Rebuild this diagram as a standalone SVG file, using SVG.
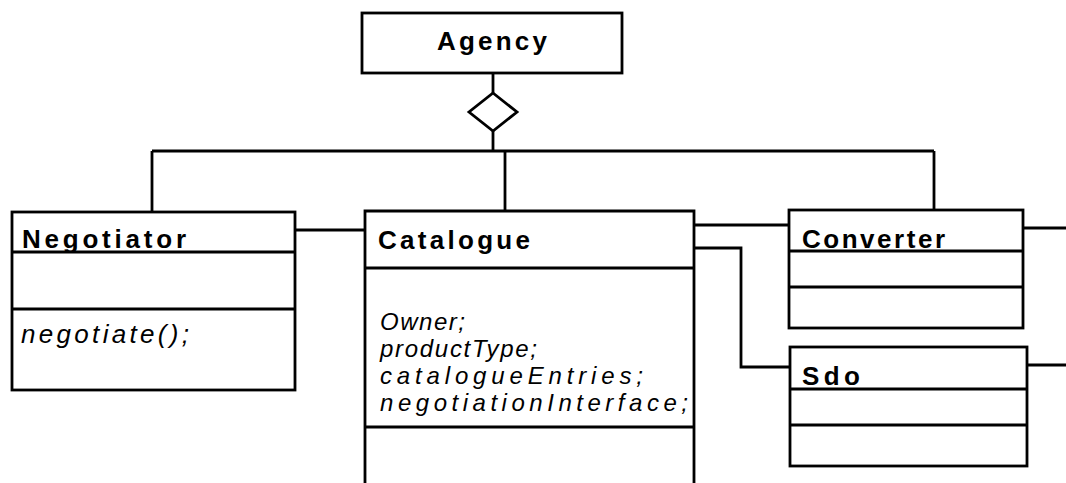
<svg xmlns="http://www.w3.org/2000/svg" width="1066" height="483" viewBox="0 0 1066 483">
<style>
.box{fill:#fff;stroke:#000;stroke-width:2.8}
.ln{fill:none;stroke:#000;stroke-width:2.8}
.b{font-family:"Liberation Sans",Arial,sans-serif;font-weight:bold;font-size:26px;fill:#000}
.i{font-family:"Liberation Sans",Arial,sans-serif;font-style:italic;font-size:24px;fill:#000}
.n{font-size:26px}
</style>
<rect width="1066" height="483" fill="#fff"/>
<g id="connectors">
<polyline class="ln" points="493,73 493,93"/>
<polygon class="ln" points="493,93 517,112 493,131 469,112"/>
<polyline class="ln" points="493,131 493,151"/>
<polyline class="ln" points="152,151 934,151"/>
<polyline class="ln" points="152,151 152,211"/>
<polyline class="ln" points="505,151 505,211"/>
<polyline class="ln" points="934,151 934,210"/>
<polyline class="ln" points="295,230 365,230"/>
<polyline class="ln" points="694,225 789,225"/>
<polyline class="ln" points="694,248 741,248 741,367 790,367"/>
<polyline class="ln" points="1023,228 1066,228"/>
<polyline class="ln" points="1027,365 1066,365"/>
</g>
<g id="agency">
<rect class="box" x="362" y="13" width="260" height="60"/>
<text class="b" x="437" y="50" textLength="110" lengthAdjust="spacing">Agency</text>
</g>
<g id="negotiator">
<rect class="box" x="12" y="212" width="283" height="178"/>
<line class="ln" x1="12" y1="252" x2="295" y2="252"/>
<line class="ln" x1="12" y1="309" x2="295" y2="309"/>
<text class="b" x="22" y="248" textLength="164" lengthAdjust="spacing">Negotiator</text>
<text class="i n" x="21" y="343" textLength="168" lengthAdjust="spacing">negotiate();</text>
</g>
<g id="catalogue">
<polyline class="ln" points="365,490 365,211 694,211 694,490"/>
<line class="ln" x1="365" y1="268" x2="694" y2="268"/>
<line class="ln" x1="365" y1="427" x2="694" y2="427"/>
<text class="b" x="378" y="249" textLength="152" lengthAdjust="spacing">Catalogue</text>
<text class="i" x="380" y="330" textLength="85" lengthAdjust="spacing">Owner;</text>
<text class="i" x="380" y="357" textLength="157" lengthAdjust="spacing">productType;</text>
<text class="i" x="380" y="384" textLength="263" lengthAdjust="spacing">catalogueEntries;</text>
<text class="i" x="380" y="411" textLength="308" lengthAdjust="spacing">negotiationInterface;</text>
</g>
<g id="converter">
<rect class="box" x="789" y="210" width="234" height="118"/>
<line class="ln" x1="789" y1="251" x2="1023" y2="251"/>
<line class="ln" x1="789" y1="287" x2="1023" y2="287"/>
<text class="b" x="802" y="248" textLength="143" lengthAdjust="spacing">Converter</text>
</g>
<g id="sdo">
<rect class="box" x="790" y="347" width="237" height="119"/>
<line class="ln" x1="790" y1="389" x2="1027" y2="389"/>
<line class="ln" x1="790" y1="425" x2="1027" y2="425"/>
<text class="b" x="802" y="385" textLength="58" lengthAdjust="spacing">Sdo</text>
</g>
</svg>
